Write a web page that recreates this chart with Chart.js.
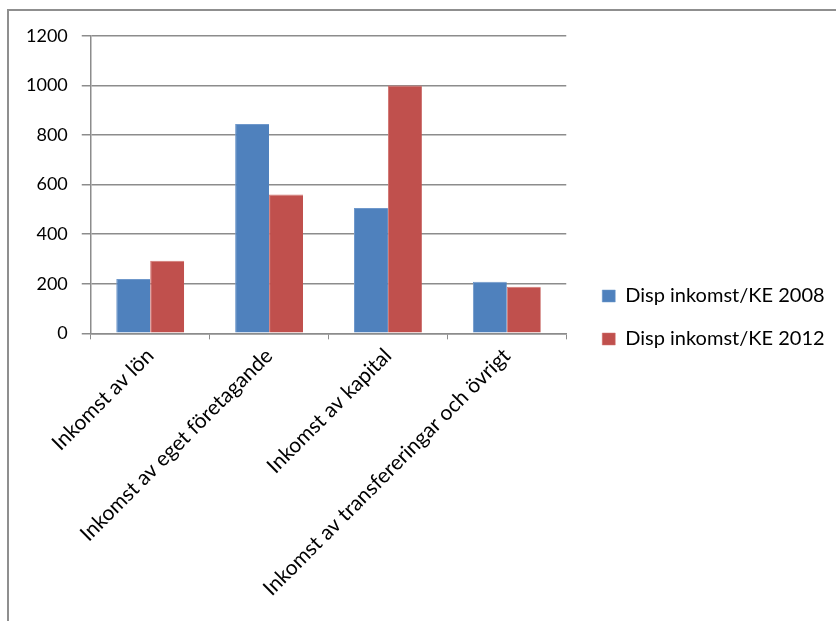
<!DOCTYPE html>
<html>
<head>
<meta charset="utf-8">
<script src="https://cdn.jsdelivr.net/npm/chart.js@4"></script>
<style>
  html, body { margin: 0; padding: 0; background: #fff; overflow: hidden; }
  #frame {
    position: absolute; left: 7px; top: 9px; width: 840px; height: 620px;
    border-left: 2px solid #8f8f8f; border-top: 2px solid #8f8f8f;
  }
  #wrap { position: absolute; left: 0; top: 0; width: 827px; height: 611px; }
</style>
</head>
<body>
<div id="frame"><div id="wrap"><canvas id="chart"></canvas></div></div>
<script>
// categories and series
const categories = [
    "Inkomst av lön",
    "Inkomst av eget företagande",
    "Inkomst av kapital",
    "Inkomst av transfereringar och övrigt"
];
const seriesNames = ["Disp inkomst/KE 2008", "Disp inkomst/KE 2012"];
const values2008 = [219, 844, 506, 208];
const values2012 = [293, 560, 1000, 188];
const yTicks = [0, 200, 400, 600, 800, 1000, 1200];

const axisGray = "#8c8c8c";
const tickFont = { family: "Lato", size: 18 };
const labelFont = { family: "Lato", size: 21 };
const legendFont = { family: "Lato", size: 20 };

// move the legend a bit away from the plot and let its text run to the edge
const legendShift = {
    id: "legendShift",
    afterLayout(chart) {
        const lg = chart.legend;
        lg.left += 13;
        lg.right = chart.width;
        lg.width = lg.right - lg.left;
        lg.top += 5;
        lg.bottom += 5;
    }
};

const ctx = document.getElementById("chart");
new Chart(ctx, {
    type: "bar",
    data: {
        labels: categories,
        datasets: [
            {
                label: seriesNames[0],
                data: values2008,
                backgroundColor: "#4f81bd",
                borderColor: "#6f98cb",
                borderWidth: { top: 1, left: 1, right: 0, bottom: 0 },
                categoryPercentage: 0.571,
                barPercentage: 1.0
            },
            {
                label: seriesNames[1],
                data: values2012,
                backgroundColor: "#c0504d",
                borderColor: "#d27572",
                borderWidth: { top: 1, left: 1, right: 0, bottom: 0 },
                categoryPercentage: 0.571,
                barPercentage: 1.0
            }
        ]
    },
    options: {
        responsive: true,
        maintainAspectRatio: false,
        animation: false,
        layout: { padding: { left: 3, right: 85, top: 9, bottom: 17 } },
        plugins: {
            legend: {
                position: "right",
                labels: {
                    boxWidth: 13,
                    boxHeight: 12,
                    padding: 23,
                    color: "#000",
                    font: legendFont
                }
            },
            tooltip: { enabled: false }
        },
        scales: {
            x: {
                grid: {
                    drawOnChartArea: false,
                    drawTicks: true,
                    tickLength: 6,
                    color: axisGray
                },
                border: { color: axisGray, width: 1.5 },
                ticks: {
                    color: "#000",
                    font: labelFont,
                    minRotation: 45,
                    maxRotation: 45,
                    autoSkip: false,
                    padding: 4
                }
            },
            y: {
                min: 0,
                max: 1200,
                afterBuildTicks(scale) {
                    scale.ticks = yTicks.map(v => ({ value: v }));
                },
                grid: {
                    color: axisGray,
                    lineWidth: 1.5,
                    tickLength: 9
                },
                border: { color: axisGray, width: 1.5 },
                ticks: {
                    color: "#000",
                    font: tickFont,
                    padding: 14,
                    callback: (value) => String(value)
                }
            }
        }
    },
    plugins: [legendShift]
});
</script>
</body>
</html>
